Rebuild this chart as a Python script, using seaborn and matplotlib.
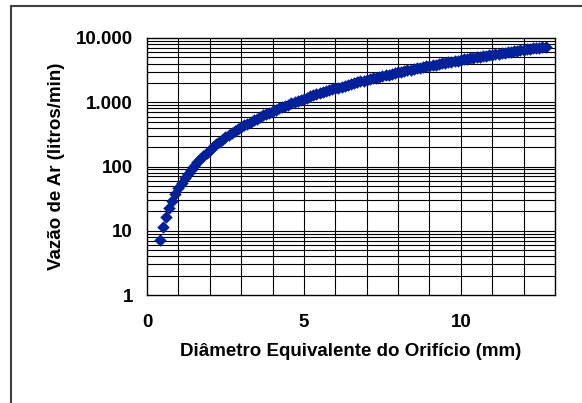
import matplotlib
matplotlib.use("Agg")
import matplotlib.pyplot as plt
import matplotlib.ticker as mticker
from matplotlib.patches import Rectangle
import seaborn as sns
import pandas as pd

diametro_mm = [0.4, 0.5, 0.6, 0.7, 0.8, 0.9, 1.0, 1.1, 1.2, 1.3, 1.4, 1.5, 1.6, 1.7, 1.8, 1.9,
               2.0, 2.1, 2.2, 2.3, 2.4, 2.5, 2.6, 2.7, 2.8, 2.9, 3.0, 3.1, 3.2, 3.3, 3.4, 3.5,
               3.6, 3.7, 3.8, 3.9, 4.0, 4.1, 4.2, 4.3, 4.4, 4.5, 4.6, 4.7, 4.8, 4.9, 5.0, 5.1,
               5.2, 5.3, 5.4, 5.5, 5.6, 5.7, 5.8, 5.9, 6.0, 6.1, 6.2, 6.3, 6.4, 6.5, 6.6, 6.7,
               6.8, 6.9, 7.0, 7.1, 7.2, 7.3, 7.4, 7.5, 7.6, 7.7, 7.8, 7.9, 8.0, 8.1, 8.2, 8.3,
               8.4, 8.5, 8.6, 8.7, 8.8, 8.9, 9.0, 9.1, 9.2, 9.3, 9.4, 9.5, 9.6, 9.7, 9.8, 9.9,
               10.0, 10.1, 10.2, 10.3, 10.4, 10.5, 10.6, 10.7, 10.8, 10.9, 11.0, 11.1, 11.2,
               11.3, 11.4, 11.5, 11.6, 11.7, 11.8, 11.9, 12.0, 12.1, 12.2, 12.3, 12.4, 12.5,
               12.6, 12.7]
vazao_lpm = [7.3, 11.4, 16.4, 22.3, 29.1, 36.9, 45.5, 55.1, 65.5, 76.9, 89.2, 102, 116, 131,
             147, 164, 182, 201, 220, 241, 262, 284, 308, 332, 357, 383, 410, 437, 466, 495,
             526, 557, 590, 623, 657, 692, 728, 765, 803, 841, 881, 921, 963, 1005, 1048,
             1092, 1138, 1183, 1230, 1278, 1327, 1376, 1427, 1478, 1531, 1584, 1638, 1693,
             1749, 1806, 1864, 1922, 1982, 2042, 2104, 2166, 2230, 2294, 2359, 2425, 2492,
             2559, 2628, 2698, 2768, 2840, 2912, 2985, 3059, 3134, 3210, 3287, 3365, 3444,
             3524, 3604, 3686, 3768, 3851, 3935, 4020, 4106, 4193, 4281, 4370, 4459, 4550,
             4641, 4734, 4827, 4921, 5016, 5112, 5209, 5307, 5406, 5506, 5606, 5708, 5810,
             5913, 6017, 6122, 6228, 6335, 6443, 6552, 6662, 6772, 6884, 6996, 7109, 7224,
             7339]
x_ticks = [0, 5, 10]
y_ticks = [1, 10, 100, 1000, 10000]
y_tick_labels = ["1", "10", "100", "1.000", "10.000"]

sns.set_theme(style="white")
plt.rcParams['font.family'] = ['Liberation Sans', 'DejaVu Sans']

df = pd.DataFrame({"d": diametro_mm, "q": vazao_lpm})

fig = plt.figure(figsize=(5.82, 4.03), dpi=100)
ax = fig.add_axes([147/582, 1-295/403, (555-147)/582, (295-38)/403])

# outer frame
fig.patches.append(Rectangle((11/582, -0.05), 1.2, 1.05 - 6/403, transform=fig.transFigure,
                             fill=False, edgecolor="#404040", linewidth=1.5, zorder=0))

ax.set_yscale("log")
ax.set_xlim(0, 13)
ax.set_ylim(1, 10000)

# grid
for xv in range(1, 13):
    ax.axvline(xv, color="black", linewidth=0.8, zorder=1)
for dec in [1, 10, 100, 1000]:
    for m in range(1, 10):
        v = dec * m
        if 1 < v < 10000:
            ax.axhline(v, color="black", linewidth=0.8, zorder=1)

sns.scatterplot(data=df, x="d", y="q", marker="D", s=36, color="#00209A",
                edgecolor="#00209A", linewidth=0.3, ax=ax, zorder=3, legend=False)

ax.set_xticks(x_ticks)
ax.set_xticklabels([str(t) for t in x_ticks])
ax.set_yticks(y_ticks)
ax.set_yticklabels(y_tick_labels)
ax.yaxis.set_minor_locator(mticker.NullLocator())

ax.tick_params(axis="both", which="major", direction="out", length=5, width=1, color="black",
               labelsize=13.5, labelcolor="black")
ax.tick_params(axis="x", pad=9)
ax.tick_params(axis="y", pad=5)
for lab in ax.get_xticklabels() + ax.get_yticklabels():
    lab.set_fontweight("bold")

for sp in ax.spines.values():
    sp.set_color("black")
    sp.set_linewidth(1)
    sp.set_visible(True)

ax.set_xlabel("Diâmetro Equivalente do Orifício (mm)", fontsize=13.5, fontweight="bold",
              color="black", labelpad=8)
ax.set_ylabel("Vazão de Ar (litros/min)", fontsize=13.5, fontweight="bold", color="black",
              labelpad=8)

fig.savefig("out.png", dpi=100)
